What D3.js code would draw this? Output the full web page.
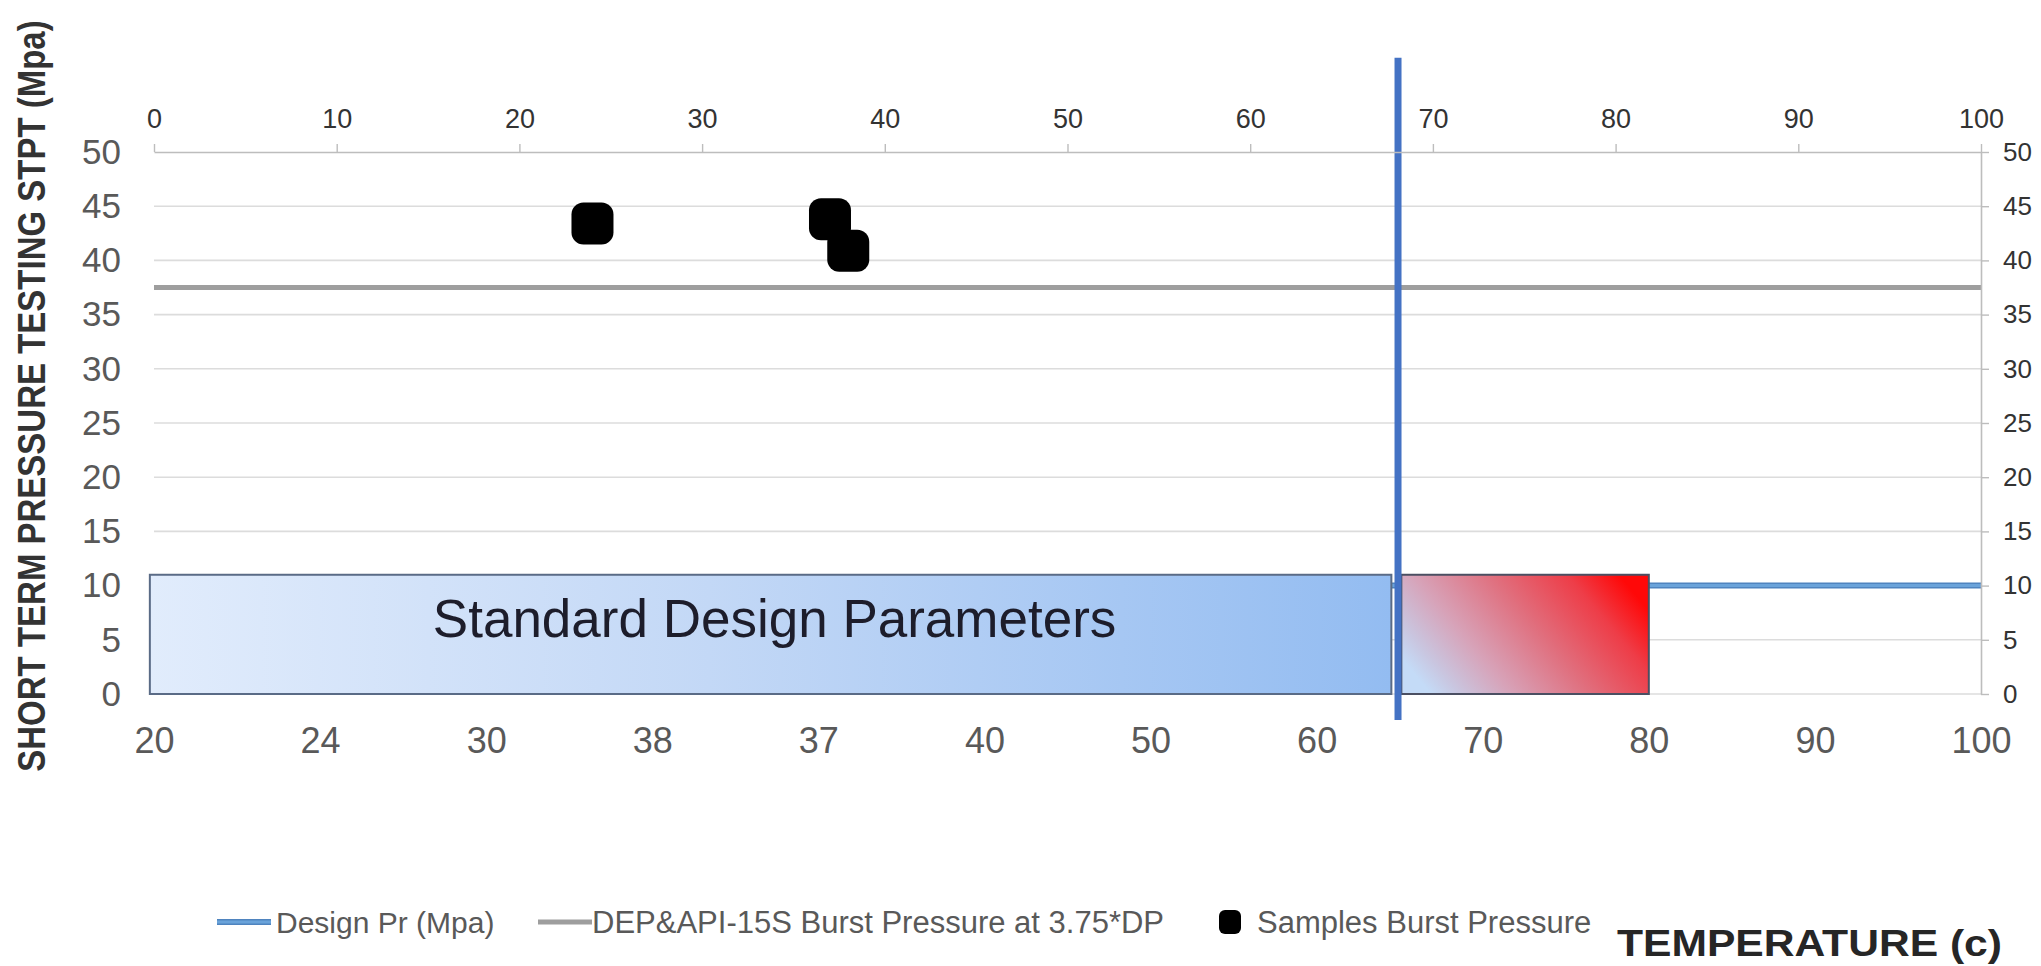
<!DOCTYPE html>
<html><head><meta charset="utf-8">
<script src="https://cdn.jsdelivr.net/npm/d3@7"></script>
<style>
body{margin:0;background:#fff}
svg{display:block}
text{font-family:"Liberation Sans",Arial,Helvetica,sans-serif}
</style>
</head><body>
<svg id="c" width="2041" height="966"></svg>
<script>
// ---------- data ----------
const bottomCategories = [20, 24, 30, 38, 37, 40, 50, 60, 70, 80, 90, 100];
const topTicks = [0, 10, 20, 30, 40, 50, 60, 70, 80, 90, 100];
const yTicks = [0, 5, 10, 15, 20, 25, 30, 35, 40, 45, 50];
const designPr = [10, 10, 10, 10, 10, 10, 10, 10, 10, 10, 10, 10];
const burstPr = [37.5, 37.5, 37.5, 37.5, 37.5, 37.5, 37.5, 37.5, 37.5, 37.5, 37.5, 37.5];
const sampleTemp = [24, 37, 38];
const samplePr = [43.4, 43.8, 40.9];
const regionLabels = ["Standard Design Parameters", ""];
const regionStart = [19.9, 65.1];
const regionEnd = [64.5, 80];
const regionTop = [11, 11];
const designTemp = [64.9];
const designTempSpan = [-2.4, 58.7];
const legendLabels = ["Design Pr (Mpa)", "DEP&API-15S Burst Pressure at 3.75*DP", "Samples Burst Pressure"];
const yTitle = "SHORT TERM PRESSURE TESTING STPT (Mpa)";
const xTitle = "TEMPERATURE (c)";

// ---------- scales ----------
const L = 154, R = 1981, T = 152, B = 694;
const svg = d3.select("#c");
const xCat = d3.scalePoint().domain(bottomCategories).range([L, R]);
const xTop = d3.scaleLinear().domain([0, 100]).range([L, R]);
const y = d3.scaleLinear().domain([0, 50]).range([B, T]);

function tempX(t) {
  const c = bottomCategories;
  for (let i = c.length - 2; i >= 0; i--) {
    const a = c[i], b = c[i + 1];
    if (a < b && t >= a && t <= b) return xCat(a) + (t - a) / (b - a) * (xCat(b) - xCat(a));
  }
  const a = c[0], b = c[1];
  return xCat(a) + (t - a) / (b - a) * (xCat(b) - xCat(a));
}

// ---------- defs ----------
const defs = svg.append("defs");
const gBlue = defs.append("linearGradient").attr("id", "gBlue").attr("x1", 0).attr("y1", 0).attr("x2", 1).attr("y2", 0);
[[0, "#e1ecfc"], [0.45, "#c3d8f6"], [1, "#93bcf1"]].forEach(s => gBlue.append("stop").attr("offset", s[0]).attr("stop-color", s[1]));
const gRed = defs.append("linearGradient").attr("id", "gRed").attr("x1", 0).attr("y1", 0.7).attr("x2", 1).attr("y2", 0.3);
[[0, "#c4dbf7"], [0.1, "#c9c6e0"], [0.28, "#d7a3b9"], [0.55, "#e0707f"], [0.82, "#ee3d48"], [1, "#ff0808"]].forEach(s => gRed.append("stop").attr("offset", s[0]).attr("stop-color", s[1]));

// ---------- gridlines ----------
svg.append("g").selectAll("line").data(yTicks.filter(v => v < 50)).join("line")
  .attr("x1", L).attr("x2", R).attr("y1", d => y(d)).attr("y2", d => y(d))
  .attr("stroke", "#dcdcdc").attr("stroke-width", 1.6);

// ---------- series lines ----------
const line = d3.line().x((d, i) => xCat(bottomCategories[i])).y(d => y(d));
svg.append("path").datum(burstPr).attr("d", line).attr("fill", "none")
  .attr("stroke", "#9e9e9e").attr("stroke-width", 5);
svg.append("path").datum(designPr).attr("d", line).attr("fill", "none")
  .attr("stroke", "#4f84bf").attr("stroke-width", 6);
svg.append("path").datum(designPr).attr("d", line).attr("fill", "none")
  .attr("stroke", "#6aa3da").attr("stroke-width", 3);

// ---------- regions ----------
const fills = ["url(#gBlue)", "url(#gRed)"];
const strokes = ["#5a6b86", "#4b4f62"];
svg.append("g").selectAll("rect").data(regionStart).join("rect")
  .attr("x", (d, i) => tempX(d))
  .attr("width", (d, i) => tempX(regionEnd[i]) - tempX(d))
  .attr("y", (d, i) => y(regionTop[i]))
  .attr("height", (d, i) => y(0) - y(regionTop[i]))
  .attr("fill", (d, i) => fills[i])
  .attr("stroke", (d, i) => strokes[i]).attr("stroke-width", 2);

svg.append("text").text(regionLabels[0])
  .attr("x", tempX(regionStart[0]) + 283).attr("y", 637)
  .attr("font-size", 53).attr("fill", "#1d1d2b");

// ---------- design temperature marker ----------
svg.append("g").selectAll("line").data(designTemp).join("line")
  .attr("x1", d => tempX(d)).attr("x2", d => tempX(d))
  .attr("y1", y(designTempSpan[1])).attr("y2", y(designTempSpan[0]))
  .attr("stroke", "#4472c4").attr("stroke-width", 7);

// ---------- samples ----------
svg.append("g").selectAll("rect").data(sampleTemp).join("rect")
  .attr("x", d => xTop(d) - 21).attr("y", (d, i) => y(samplePr[i]) - 21)
  .attr("width", 42).attr("height", 42).attr("rx", 12).attr("ry", 12)
  .attr("fill", "#000");

// ---------- axes ----------
const topAxis = svg.append("g").attr("transform", `translate(0,${T})`)
  .call(d3.axisTop(xTop).tickValues(topTicks).tickSize(8).tickSizeOuter(0).tickPadding(16));
topAxis.select(".domain").attr("stroke", "#bdbdbd").attr("stroke-width", 1.6);
topAxis.selectAll(".tick line").attr("stroke", "#bdbdbd").attr("stroke-width", 1.4);
topAxis.selectAll("text").attr("font-size", 27).attr("fill", "#333").attr("font-family", null);

const rightAxis = svg.append("g").attr("transform", `translate(${R},0)`)
  .call(d3.axisRight(y).tickValues(yTicks).tickSize(8).tickSizeOuter(0).tickPadding(14));
rightAxis.select(".domain").attr("stroke", "#bdbdbd").attr("stroke-width", 1.6);
rightAxis.selectAll(".tick line").attr("stroke", "#bdbdbd").attr("stroke-width", 1.4);
rightAxis.selectAll("text").attr("font-size", 26).attr("fill", "#333").attr("font-family", null);

const leftAxis = svg.append("g").attr("transform", `translate(${L},0)`)
  .call(d3.axisLeft(y).tickValues(yTicks).tickSize(0).tickPadding(33));
leftAxis.select(".domain").remove();
leftAxis.selectAll("text").attr("font-size", 35).attr("fill", "#595959").attr("font-family", null);

const bottomAxis = svg.append("g").attr("transform", `translate(0,${B})`)
  .call(d3.axisBottom(xCat).tickSize(0).tickPadding(33));
bottomAxis.select(".domain").remove();
bottomAxis.selectAll("text").attr("font-size", 36).attr("fill", "#595959").attr("font-family", null);

// ---------- titles ----------
svg.append("text").text(yTitle)
  .attr("transform", "translate(45,396) rotate(-90) scale(1,1.18)")
  .attr("text-anchor", "middle").attr("font-weight", "bold").attr("font-size", 33)
  .attr("fill", "#333");

svg.append("text").text(xTitle)
  .attr("x", 1617).attr("y", 956)
  .attr("font-weight", "bold").attr("font-size", 36)
  .attr("textLength", 385).attr("lengthAdjust", "spacingAndGlyphs")
  .attr("fill", "#262626");

// ---------- legend ----------
const lg = svg.append("g").attr("transform", "translate(0,922)");
lg.append("line").attr("x1", 217).attr("x2", 271).attr("stroke", "#4f84bf").attr("stroke-width", 6);
lg.append("line").attr("x1", 217).attr("x2", 271).attr("stroke", "#6aa3da").attr("stroke-width", 3);
lg.append("text").text(legendLabels[0]).attr("x", 276).attr("dy", "0.35em").attr("font-size", 30).attr("fill", "#595959");
lg.append("line").attr("x1", 538).attr("x2", 592).attr("stroke", "#9e9e9e").attr("stroke-width", 5);
lg.append("text").text(legendLabels[1]).attr("x", 592).attr("dy", "0.35em").attr("font-size", 31).attr("fill", "#595959");
lg.append("rect").attr("x", 1219).attr("y", -12).attr("width", 22).attr("height", 24).attr("rx", 6).attr("fill", "#000");
lg.append("text").text(legendLabels[2]).attr("x", 1257).attr("dy", "0.35em").attr("font-size", 31).attr("fill", "#595959");
</script>
</body></html>
